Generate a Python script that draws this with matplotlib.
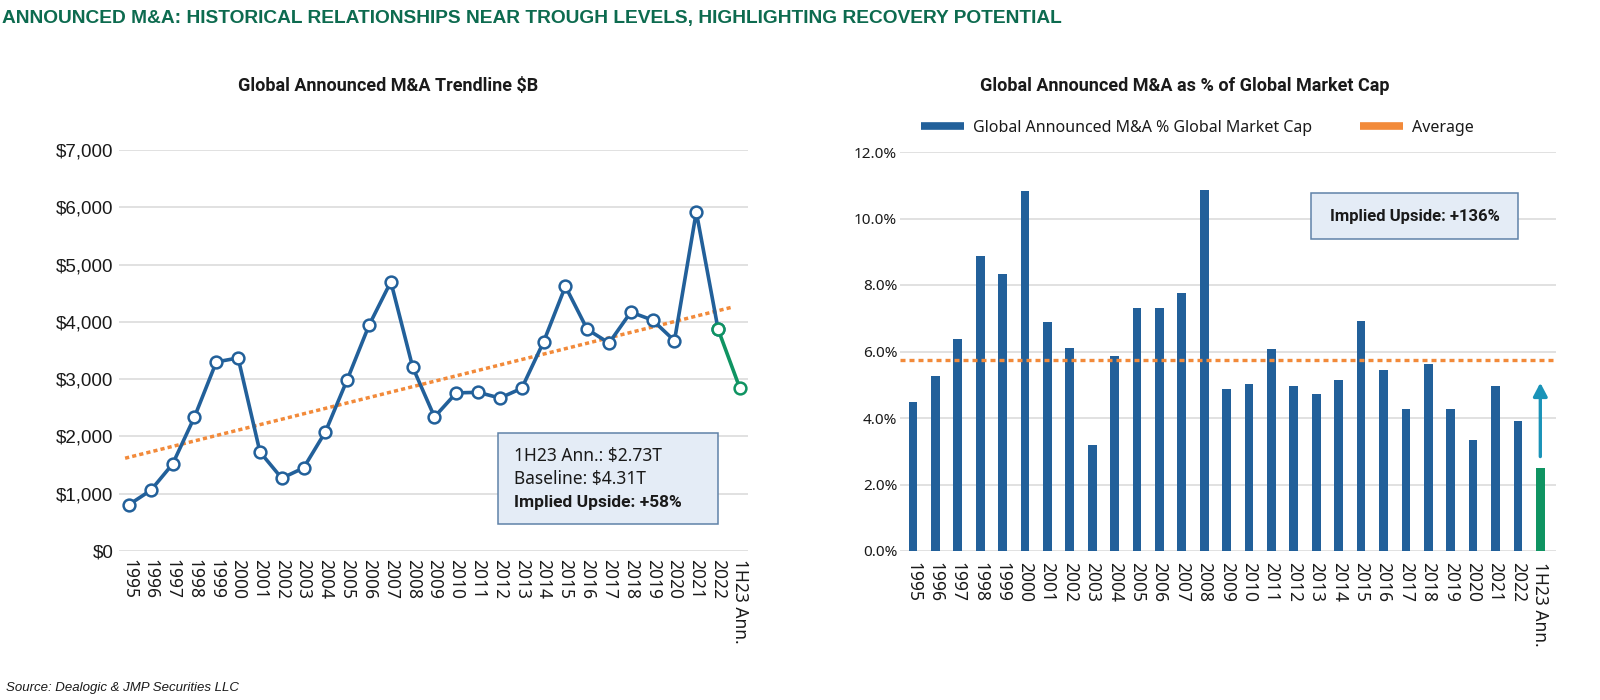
import numpy as np
import matplotlib
matplotlib.use("Agg")
import matplotlib.pyplot as plt
from matplotlib.lines import Line2D
from matplotlib.patches import Rectangle

# ---------------- data ----------------
categories = ["1995", "1996", "1997", "1998", "1999", "2000", "2001", "2002", "2003",
              "2004", "2005", "2006", "2007", "2008", "2009", "2010", "2011", "2012",
              "2013", "2014", "2015", "2016", "2017", "2018", "2019", "2020", "2021",
              "2022", "1H23 Ann."]

ma_volume_bn = [810, 1060, 1520, 2340, 3300, 3370, 1730, 1270, 1450, 2080, 2990, 3940,
                4700, 3210, 2340, 2760, 2770, 2670, 2840, 3650, 4620, 3870, 3630, 4170,
                4030, 3670, 5920, 3870, 2840]

trend_endpoints = [1637, 4290]          # trendline value at 1995 and at 1H23 Ann.

ma_pct_mktcap = [4.49, 5.25, 6.38, 8.86, 8.34, 10.83, 6.90, 6.11, 3.20, 5.85, 7.31, 7.31,
                 7.76, 10.85, 4.87, 5.02, 6.07, 4.97, 4.71, 5.13, 6.92, 5.45, 4.27, 5.62,
                 4.27, 3.34, 4.97, 3.92, 2.50]
average_pct = 5.75
arrow_target_pct = 5.06

yticks_left = [0, 1000, 2000, 3000, 4000, 5000, 6000, 7000]
yticks_right = [0, 2, 4, 6, 8, 10, 12]

main_title = "ANNOUNCED M&A: HISTORICAL RELATIONSHIPS NEAR TROUGH LEVELS, HIGHLIGHTING RECOVERY POTENTIAL"
left_title = "Global Announced M&A Trendline $B"
right_title = "Global Announced M&A as % of Global Market Cap"
legend_labels = ["Global Announced M&A % Global Market Cap", "Average"]
left_box_lines = ["1H23 Ann.: $2.73T", "Baseline: $4.31T", "Implied Upside: +58%"]
right_box_text = "Implied Upside: +136%"
source_text = "Source: Dealogic & JMP Securities LLC"

# ---------------- style ----------------
BLUE = "#22609a"
GREEN = "#0f9462"
ORANGE = "#f28a3a"
TEAL = "#1a93b8"
GRID = "#dcdcdc"
TXT = "#1a1a1a"
TITLE_GREEN = "#0d6b4f"
BOX_FILL = "#e4ecf6"
BOX_EDGE = "#5f82a8"

SANS = ["Noto Sans", "DejaVu Sans"]
BOLD = ["Roboto", "DejaVu Sans"]
NARROW = ["Liberation Sans Narrow", "Liberation Sans", "DejaVu Sans"]
plt.rcParams["font.family"] = SANS

W, H = 1600, 700
fig = plt.figure(figsize=(16, 7), dpi=100)
fig.patch.set_facecolor("white")

def fx(px):
    return px / W

def fy(py):
    return 1 - py / H

# ---------------- left chart ----------------
axL = fig.add_axes([fx(119), fy(551), (748 - 119) / W, (551 - 150) / H])
x = np.arange(len(categories))
vals = np.array(ma_volume_bn, dtype=float)

axL.set_ylim(0, 7000)
axL.set_xlim(-0.46, 28.37)
axL.set_yticks(yticks_left)
axL.set_yticklabels([f"${v:,.0f}" for v in yticks_left], family=NARROW, fontsize=13.5, color=TXT)
axL.set_xticks(x)
axL.set_xticklabels(categories, rotation=-90, fontsize=12.5, color=TXT, va="top", ha="center")
axL.tick_params(axis="both", length=0)
axL.tick_params(axis="y", pad=4)
axL.tick_params(axis="x", pad=6)
axL.grid(axis="y", color=GRID, lw=1.2)
axL.set_axisbelow(True)
for s in axL.spines.values():
    s.set_visible(False)

# trendline
tx = np.array([-0.18, 27.66])
ty = trend_endpoints[0] + (trend_endpoints[1] - trend_endpoints[0]) * tx / (len(categories) - 1)
axL.plot(tx, ty, color=ORANGE, lw=2.5, linestyle=(0, (1.2, 0.9)), solid_capstyle="butt",
         dash_capstyle="butt", zorder=2)

n_hist = len(categories) - 1
axL.plot(x[n_hist - 1:], vals[n_hist - 1:], color=GREEN, lw=2.6, zorder=3,
         marker="o", ms=8.5, mfc="white", mec=GREEN, mew=1.8, markevery=[1])
axL.plot(x[:n_hist], vals[:n_hist], color=BLUE, lw=2.6, zorder=4,
         marker="o", ms=8.5, mfc="white", mec=BLUE, mew=1.8)
axL.plot(x[n_hist - 1], vals[n_hist - 1], marker="o", ms=8.5, mfc="white", mec=GREEN,
         mew=1.8, zorder=5)

# info box
bx0, bx1 = (498 - 119) / 629, (718 - 119) / 629
by0, by1 = (551 - 524) / 401, (551 - 433) / 401
axL.add_patch(Rectangle((bx0, by0), bx1 - bx0, by1 - by0, transform=axL.transAxes,
                        facecolor=BOX_FILL, edgecolor=BOX_EDGE, lw=1.1, zorder=6))
tx0 = (514 - 119) / 629
for i, (line, ypx) in enumerate(zip(left_box_lines, [456, 479, 502])):
    axL.text(tx0, (551 - ypx) / 401, line, transform=axL.transAxes, fontsize=12.5,
             family=BOLD if i == 2 else SANS,
             fontweight="bold" if i == 2 else "normal", color=TXT, va="center", ha="left",
             zorder=7)

# ---------------- right chart ----------------
axR = fig.add_axes([fx(900), fy(551), (1556 - 900) / W, (551 - 152) / H])
pct = np.array(ma_pct_mktcap)
colors = [BLUE] * (len(categories) - 1) + [GREEN]
axR.bar(x, pct, width=0.39, color=colors, zorder=3)
axR.axhline(average_pct, color=ORANGE, lw=2.4, linestyle=(0, (1.5, 1.2)), zorder=4)
axR.set_ylim(0, 12)
axR.set_xlim(-0.58, 28.7)
axR.set_yticks(yticks_right)
axR.set_yticklabels([f"{v:.1f}%" for v in yticks_right], fontsize=11, color=TXT)
axR.set_xticks(x)
axR.set_xticklabels(categories, rotation=-90, fontsize=12.5, color=TXT, va="top", ha="center")
axR.tick_params(axis="both", length=0)
axR.tick_params(axis="y", pad=2)
axR.tick_params(axis="x", pad=8)
axR.grid(axis="y", color=GRID, lw=1.2)
axR.set_axisbelow(True)
for s in axR.spines.values():
    s.set_visible(False)

# upside arrow
axR.annotate("", xy=(x[-1], arrow_target_pct), xytext=(x[-1], pct[-1] + 0.34),
             arrowprops=dict(arrowstyle="-|>,head_length=0.8,head_width=0.42",
                             color=TEAL, lw=2.4, shrinkA=0, shrinkB=0), zorder=5)

# right box
rx0, rx1 = (1311 - 900) / 656, (1518 - 900) / 656
ry0, ry1 = (551 - 239) / 399, (551 - 193) / 399
axR.add_patch(Rectangle((rx0, ry0), rx1 - rx0, ry1 - ry0, transform=axR.transAxes,
                        facecolor=BOX_FILL, edgecolor=BOX_EDGE, lw=1.1, zorder=6))
axR.text((rx0 + rx1) / 2, (ry0 + ry1) / 2, right_box_text, transform=axR.transAxes,
         fontsize=12, family=BOLD, fontweight="bold", color=TXT, ha="center", va="center",
         zorder=7)

# legend
handles = [Line2D([], [], color=BLUE, lw=5.5, solid_capstyle="butt"),
           Line2D([], [], color=ORANGE, lw=5.5, solid_capstyle="butt")]
axR.legend(handles, legend_labels, loc="center left", bbox_to_anchor=(fx(921), fy(128)),
           bbox_transform=fig.transFigure, ncol=2, frameon=False, borderpad=0,
           borderaxespad=0, handlelength=2.7, handletextpad=0.55, columnspacing=3.0,
           fontsize=11.5, labelcolor=TXT)

# ---------------- titles & source ----------------
fig.text(fx(2), fy(19), main_title, family=NARROW, fontsize=13.8, fontweight="bold",
         color=TITLE_GREEN, ha="left", va="center")
fig.text(fx(388), fy(86), left_title, family=BOLD, fontsize=13, fontweight="bold", color=TXT,
         ha="center", va="center")
fig.text(fx(1185), fy(86), right_title, family=BOLD, fontsize=13, fontweight="bold", color=TXT,
         ha="center", va="center")
fig.text(fx(6), fy(688), source_text, family=NARROW, fontsize=9.5, style="italic",
         color=TXT, ha="left", va="center")

fig.savefig("out.png", dpi=100, facecolor="white")
